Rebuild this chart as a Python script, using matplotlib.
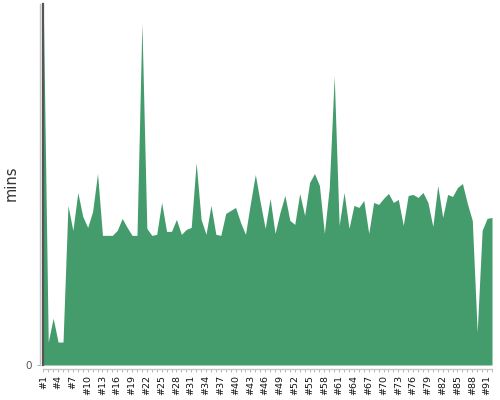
import matplotlib
matplotlib.use("Agg")
import matplotlib.pyplot as plt

categories = ["#%d" % i for i in range(1, 93)]
mins = [360, 23, 47, 23, 23, 160, 135, 173, 149, 138,
        154, 192, 130, 130, 130, 135, 147, 138, 130, 130,
        343, 137, 130, 131, 163, 134, 134, 146, 131, 136,
        138, 203, 146, 131, 160, 131, 130, 152, 155, 158,
        143, 131, 162, 191, 163, 137, 167, 132, 153, 170,
        145, 141, 172, 150, 183, 192, 180, 132, 178, 290,
        140, 173, 137, 160, 158, 165, 132, 163, 161, 167,
        172, 163, 166, 140, 170, 171, 168, 173, 163, 139,
        180, 148, 171, 169, 178, 182, 162, 145, 33, 135,
        147, 148]
tick_every = 3
ylabel = "mins"

ax_w = (492 - 43.3) / 500
ax_h = (365 - 4) / 400
fig = plt.figure(figsize=(5, 4), dpi=100)
ax = fig.add_axes([43.3 / 500, 35 / 400, ax_w, ax_h])

x = list(range(1, len(mins) + 1))
ax.fill_between(x, mins, 0, color="#449c6c", linewidth=0)
ax.axvline(1, color="#555555", linewidth=1.6, clip_on=False, zorder=5)

ax.set_xlim(1, len(mins))
ax.set_ylim(0, 362)

for s in ["top", "right"]:
    ax.spines[s].set_visible(False)
ax.spines["left"].set_position(("outward", 2.4))
ax.spines["bottom"].set_position(("outward", 2.9))
ax.spines["left"].set_color("#c4c4c4")
ax.spines["bottom"].set_color("#c4c4c4")
ax.spines["left"].set_linewidth(1.0)
ax.spines["bottom"].set_linewidth(1.0)

ax.set_yticks([0])
ax.set_yticklabels(["0"])
ax.tick_params(axis="y", length=2.5, width=0.7, color="#aaaaaa", labelcolor="#555555",
               labelsize=7.5, pad=3)

ax.set_xticks(x)
ax.set_xticklabels([c if (i % tick_every == 0) else "" for i, c in enumerate(categories)],
                   rotation=90)
ax.tick_params(axis="x", length=2.5, width=0.6, color="#aaaaaa", labelcolor="#111111",
               labelsize=6.8, pad=2)

ax.set_ylabel(ylabel, fontsize=10.5, color="#333333")
ax.yaxis.set_label_coords((19 - 43.3) / 500 / ax_w, (365 - 183) / 361)

fig.savefig("out.png", dpi=100)
